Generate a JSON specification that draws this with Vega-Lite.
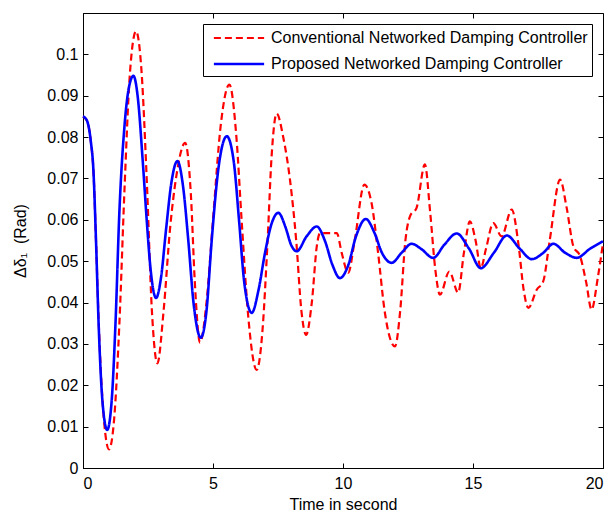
{
  "$schema": "https://vega.github.io/schema/vega-lite/v6.json",
  "width": 520,
  "height": 455,
  "autosize": {"type": "none"},
  "padding": {"left": 83, "top": 13, "right": 10, "bottom": 45},
  "background": "white",
  "config": {
    "font": "Liberation Sans",
    "view": {"stroke": "black", "strokeWidth": 1},
    "axis": {"grid": false, "domainColor": "black", "tickColor": "black", "labelColor": "black", "titleColor": "black", "labelFontSize": 16, "titleFontSize": 16, "titleFontWeight": "normal", "tickSize": -5}
  },
  "data": {"values": [
    {"t":0,"y":0.085,"s":"Conventional Networked Damping Controller"},
    {"t":0.15,"y":0.084,"s":"Conventional Networked Damping Controller"},
    {"t":0.3,"y":0.079,"s":"Conventional Networked Damping Controller"},
    {"t":0.4,"y":0.072,"s":"Conventional Networked Damping Controller"},
    {"t":0.5,"y":0.055,"s":"Conventional Networked Damping Controller"},
    {"t":0.6,"y":0.036,"s":"Conventional Networked Damping Controller"},
    {"t":0.8,"y":0.012,"s":"Conventional Networked Damping Controller"},
    {"t":1.0,"y":0.0045,"s":"Conventional Networked Damping Controller"},
    {"t":1.2,"y":0.012,"s":"Conventional Networked Damping Controller"},
    {"t":1.4,"y":0.035,"s":"Conventional Networked Damping Controller"},
    {"t":1.6,"y":0.068,"s":"Conventional Networked Damping Controller"},
    {"t":1.8,"y":0.095,"s":"Conventional Networked Damping Controller"},
    {"t":2.04,"y":0.1056,"s":"Conventional Networked Damping Controller"},
    {"t":2.25,"y":0.096,"s":"Conventional Networked Damping Controller"},
    {"t":2.45,"y":0.07,"s":"Conventional Networked Damping Controller"},
    {"t":2.65,"y":0.038,"s":"Conventional Networked Damping Controller"},
    {"t":2.86,"y":0.0253,"s":"Conventional Networked Damping Controller"},
    {"t":3.1,"y":0.038,"s":"Conventional Networked Damping Controller"},
    {"t":3.35,"y":0.058,"s":"Conventional Networked Damping Controller"},
    {"t":3.6,"y":0.071,"s":"Conventional Networked Damping Controller"},
    {"t":3.93,"y":0.0786,"s":"Conventional Networked Damping Controller"},
    {"t":4.15,"y":0.066,"s":"Conventional Networked Damping Controller"},
    {"t":4.3,"y":0.045,"s":"Conventional Networked Damping Controller"},
    {"t":4.5,"y":0.0303,"s":"Conventional Networked Damping Controller"},
    {"t":4.75,"y":0.04,"s":"Conventional Networked Damping Controller"},
    {"t":5.0,"y":0.06,"s":"Conventional Networked Damping Controller"},
    {"t":5.3,"y":0.083,"s":"Conventional Networked Damping Controller"},
    {"t":5.63,"y":0.0927,"s":"Conventional Networked Damping Controller"},
    {"t":5.9,"y":0.08,"s":"Conventional Networked Damping Controller"},
    {"t":6.1,"y":0.06,"s":"Conventional Networked Damping Controller"},
    {"t":6.35,"y":0.037,"s":"Conventional Networked Damping Controller"},
    {"t":6.68,"y":0.0237,"s":"Conventional Networked Damping Controller"},
    {"t":6.9,"y":0.033,"s":"Conventional Networked Damping Controller"},
    {"t":7.1,"y":0.055,"s":"Conventional Networked Damping Controller"},
    {"t":7.25,"y":0.075,"s":"Conventional Networked Damping Controller"},
    {"t":7.45,"y":0.0857,"s":"Conventional Networked Damping Controller"},
    {"t":7.7,"y":0.08,"s":"Conventional Networked Damping Controller"},
    {"t":7.96,"y":0.0697,"s":"Conventional Networked Damping Controller"},
    {"t":8.2,"y":0.055,"s":"Conventional Networked Damping Controller"},
    {"t":8.4,"y":0.038,"s":"Conventional Networked Damping Controller"},
    {"t":8.58,"y":0.0322,"s":"Conventional Networked Damping Controller"},
    {"t":8.8,"y":0.04,"s":"Conventional Networked Damping Controller"},
    {"t":9.0,"y":0.054,"s":"Conventional Networked Damping Controller"},
    {"t":9.12,"y":0.0568,"s":"Conventional Networked Damping Controller"},
    {"t":9.5,"y":0.0568,"s":"Conventional Networked Damping Controller"},
    {"t":9.76,"y":0.0568,"s":"Conventional Networked Damping Controller"},
    {"t":9.95,"y":0.052,"s":"Conventional Networked Damping Controller"},
    {"t":10.2,"y":0.0472,"s":"Conventional Networked Damping Controller"},
    {"t":10.45,"y":0.055,"s":"Conventional Networked Damping Controller"},
    {"t":10.82,"y":0.0685,"s":"Conventional Networked Damping Controller"},
    {"t":11.1,"y":0.064,"s":"Conventional Networked Damping Controller"},
    {"t":11.35,"y":0.052,"s":"Conventional Networked Damping Controller"},
    {"t":11.6,"y":0.038,"s":"Conventional Networked Damping Controller"},
    {"t":12.0,"y":0.0294,"s":"Conventional Networked Damping Controller"},
    {"t":12.2,"y":0.038,"s":"Conventional Networked Damping Controller"},
    {"t":12.4,"y":0.055,"s":"Conventional Networked Damping Controller"},
    {"t":12.58,"y":0.0609,"s":"Conventional Networked Damping Controller"},
    {"t":12.83,"y":0.0629,"s":"Conventional Networked Damping Controller"},
    {"t":13.15,"y":0.0734,"s":"Conventional Networked Damping Controller"},
    {"t":13.35,"y":0.062,"s":"Conventional Networked Damping Controller"},
    {"t":13.55,"y":0.048,"s":"Conventional Networked Damping Controller"},
    {"t":13.73,"y":0.0419,"s":"Conventional Networked Damping Controller"},
    {"t":14.09,"y":0.0475,"s":"Conventional Networked Damping Controller"},
    {"t":14.43,"y":0.0424,"s":"Conventional Networked Damping Controller"},
    {"t":14.65,"y":0.052,"s":"Conventional Networked Damping Controller"},
    {"t":14.88,"y":0.0596,"s":"Conventional Networked Damping Controller"},
    {"t":15.1,"y":0.055,"s":"Conventional Networked Damping Controller"},
    {"t":15.3,"y":0.0483,"s":"Conventional Networked Damping Controller"},
    {"t":15.5,"y":0.053,"s":"Conventional Networked Damping Controller"},
    {"t":15.78,"y":0.0592,"s":"Conventional Networked Damping Controller"},
    {"t":16.1,"y":0.056,"s":"Conventional Networked Damping Controller"},
    {"t":16.49,"y":0.0625,"s":"Conventional Networked Damping Controller"},
    {"t":16.75,"y":0.054,"s":"Conventional Networked Damping Controller"},
    {"t":16.95,"y":0.043,"s":"Conventional Networked Damping Controller"},
    {"t":17.13,"y":0.0387,"s":"Conventional Networked Damping Controller"},
    {"t":17.45,"y":0.0431,"s":"Conventional Networked Damping Controller"},
    {"t":17.7,"y":0.0451,"s":"Conventional Networked Damping Controller"},
    {"t":17.95,"y":0.055,"s":"Conventional Networked Damping Controller"},
    {"t":18.35,"y":0.0697,"s":"Conventional Networked Damping Controller"},
    {"t":18.6,"y":0.063,"s":"Conventional Networked Damping Controller"},
    {"t":18.86,"y":0.0536,"s":"Conventional Networked Damping Controller"},
    {"t":19.12,"y":0.0512,"s":"Conventional Networked Damping Controller"},
    {"t":19.35,"y":0.045,"s":"Conventional Networked Damping Controller"},
    {"t":19.56,"y":0.0383,"s":"Conventional Networked Damping Controller"},
    {"t":19.8,"y":0.046,"s":"Conventional Networked Damping Controller"},
    {"t":20,"y":0.0544,"s":"Conventional Networked Damping Controller"},
    {"t":0,"y":0.085,"s":"Proposed Networked Damping Controller"},
    {"t":0.15,"y":0.084,"s":"Proposed Networked Damping Controller"},
    {"t":0.3,"y":0.079,"s":"Proposed Networked Damping Controller"},
    {"t":0.4,"y":0.072,"s":"Proposed Networked Damping Controller"},
    {"t":0.5,"y":0.055,"s":"Proposed Networked Damping Controller"},
    {"t":0.6,"y":0.035,"s":"Proposed Networked Damping Controller"},
    {"t":0.75,"y":0.016,"s":"Proposed Networked Damping Controller"},
    {"t":0.93,"y":0.0092,"s":"Proposed Networked Damping Controller"},
    {"t":1.1,"y":0.016,"s":"Proposed Networked Damping Controller"},
    {"t":1.25,"y":0.035,"s":"Proposed Networked Damping Controller"},
    {"t":1.4,"y":0.062,"s":"Proposed Networked Damping Controller"},
    {"t":1.6,"y":0.083,"s":"Proposed Networked Damping Controller"},
    {"t":1.8,"y":0.093,"s":"Proposed Networked Damping Controller"},
    {"t":1.94,"y":0.0948,"s":"Proposed Networked Damping Controller"},
    {"t":2.1,"y":0.09,"s":"Proposed Networked Damping Controller"},
    {"t":2.3,"y":0.074,"s":"Proposed Networked Damping Controller"},
    {"t":2.45,"y":0.06,"s":"Proposed Networked Damping Controller"},
    {"t":2.6,"y":0.048,"s":"Proposed Networked Damping Controller"},
    {"t":2.81,"y":0.0411,"s":"Proposed Networked Damping Controller"},
    {"t":3.0,"y":0.046,"s":"Proposed Networked Damping Controller"},
    {"t":3.2,"y":0.058,"s":"Proposed Networked Damping Controller"},
    {"t":3.4,"y":0.069,"s":"Proposed Networked Damping Controller"},
    {"t":3.63,"y":0.0742,"s":"Proposed Networked Damping Controller"},
    {"t":3.85,"y":0.068,"s":"Proposed Networked Damping Controller"},
    {"t":4.05,"y":0.055,"s":"Proposed Networked Damping Controller"},
    {"t":4.25,"y":0.04,"s":"Proposed Networked Damping Controller"},
    {"t":4.53,"y":0.0315,"s":"Proposed Networked Damping Controller"},
    {"t":4.75,"y":0.038,"s":"Proposed Networked Damping Controller"},
    {"t":4.95,"y":0.055,"s":"Proposed Networked Damping Controller"},
    {"t":5.2,"y":0.072,"s":"Proposed Networked Damping Controller"},
    {"t":5.53,"y":0.0802,"s":"Proposed Networked Damping Controller"},
    {"t":5.8,"y":0.074,"s":"Proposed Networked Damping Controller"},
    {"t":6.0,"y":0.06,"s":"Proposed Networked Damping Controller"},
    {"t":6.2,"y":0.045,"s":"Proposed Networked Damping Controller"},
    {"t":6.49,"y":0.0375,"s":"Proposed Networked Damping Controller"},
    {"t":6.75,"y":0.043,"s":"Proposed Networked Damping Controller"},
    {"t":7.0,"y":0.052,"s":"Proposed Networked Damping Controller"},
    {"t":7.25,"y":0.059,"s":"Proposed Networked Damping Controller"},
    {"t":7.51,"y":0.0617,"s":"Proposed Networked Damping Controller"},
    {"t":7.8,"y":0.058,"s":"Proposed Networked Damping Controller"},
    {"t":8.0,"y":0.054,"s":"Proposed Networked Damping Controller"},
    {"t":8.22,"y":0.0524,"s":"Proposed Networked Damping Controller"},
    {"t":8.6,"y":0.056,"s":"Proposed Networked Damping Controller"},
    {"t":8.99,"y":0.0584,"s":"Proposed Networked Damping Controller"},
    {"t":9.3,"y":0.055,"s":"Proposed Networked Damping Controller"},
    {"t":9.6,"y":0.049,"s":"Proposed Networked Damping Controller"},
    {"t":9.88,"y":0.0459,"s":"Proposed Networked Damping Controller"},
    {"t":10.2,"y":0.049,"s":"Proposed Networked Damping Controller"},
    {"t":10.5,"y":0.056,"s":"Proposed Networked Damping Controller"},
    {"t":10.88,"y":0.0602,"s":"Proposed Networked Damping Controller"},
    {"t":11.2,"y":0.057,"s":"Proposed Networked Damping Controller"},
    {"t":11.5,"y":0.052,"s":"Proposed Networked Damping Controller"},
    {"t":11.87,"y":0.0496,"s":"Proposed Networked Damping Controller"},
    {"t":12.25,"y":0.052,"s":"Proposed Networked Damping Controller"},
    {"t":12.64,"y":0.0542,"s":"Proposed Networked Damping Controller"},
    {"t":13.0,"y":0.053,"s":"Proposed Networked Damping Controller"},
    {"t":13.47,"y":0.0508,"s":"Proposed Networked Damping Controller"},
    {"t":13.9,"y":0.054,"s":"Proposed Networked Damping Controller"},
    {"t":14.37,"y":0.0567,"s":"Proposed Networked Damping Controller"},
    {"t":14.85,"y":0.053,"s":"Proposed Networked Damping Controller"},
    {"t":15.3,"y":0.0483,"s":"Proposed Networked Damping Controller"},
    {"t":15.8,"y":0.052,"s":"Proposed Networked Damping Controller"},
    {"t":16.3,"y":0.0562,"s":"Proposed Networked Damping Controller"},
    {"t":16.8,"y":0.053,"s":"Proposed Networked Damping Controller"},
    {"t":17.26,"y":0.0505,"s":"Proposed Networked Damping Controller"},
    {"t":17.7,"y":0.052,"s":"Proposed Networked Damping Controller"},
    {"t":18.09,"y":0.0542,"s":"Proposed Networked Damping Controller"},
    {"t":18.55,"y":0.052,"s":"Proposed Networked Damping Controller"},
    {"t":18.99,"y":0.0508,"s":"Proposed Networked Damping Controller"},
    {"t":19.5,"y":0.053,"s":"Proposed Networked Damping Controller"},
    {"t":20,"y":0.0548,"s":"Proposed Networked Damping Controller"}
  ]},
  "layer": [
    {
      "mark": {"type": "line", "interpolate": "monotone"},
      "encoding": {
        "x": {"field": "t", "type": "quantitative", "scale": {"domain": [0, 20], "nice": false}, "axis": {"values": [0, 5, 10, 15, 20], "title": "Time in second", "titlePadding": 5, "labelPadding": 12}},
        "y": {"field": "y", "type": "quantitative", "scale": {"domain": [0, 0.11], "nice": false}, "axis": {"values": [0, 0.01, 0.02, 0.03, 0.04, 0.05, 0.06, 0.07, 0.08, 0.09, 0.1], "format": "~g", "title": "Δδ₁\u00a0\u00a0(Rad)", "titlePadding": 18, "labelPadding": 10}},
        "color": {"field": "s", "type": "nominal", "scale": {"domain": ["Conventional Networked Damping Controller", "Proposed Networked Damping Controller"], "range": ["#ff0000", "#0000ff"]}, "legend": {"title": null, "orient": "none", "legendX": 120, "legendY": 11, "fillColor": "white", "strokeColor": "black", "padding": 4, "labelFontSize": 16, "labelColor": "black", "symbolType": "M-2.9,0H2.9", "symbolSize": 300, "symbolStrokeWidth": 2.4, "symbolOffset": 22, "labelOffset": 22, "labelLimit": 400, "rowPadding": 8}},
        "strokeDash": {"field": "s", "type": "nominal", "scale": {"domain": ["Conventional Networked Damping Controller", "Proposed Networked Damping Controller"], "range": [[7, 4], [1, 0]]}, "legend": null},
        "strokeWidth": {"field": "s", "type": "nominal", "scale": {"domain": ["Conventional Networked Damping Controller", "Proposed Networked Damping Controller"], "range": [2.2, 2.6]}, "legend": null}
      }
    },
    {
      "mark": {"type": "point", "opacity": 0},
      "encoding": {
        "x": {"field": "t", "type": "quantitative", "axis": {"orient": "top", "values": [0, 5, 10, 15, 20], "labels": false, "title": null, "domain": false}},
        "y": {"field": "y", "type": "quantitative", "axis": {"orient": "right", "values": [0, 0.01, 0.02, 0.03, 0.04, 0.05, 0.06, 0.07, 0.08, 0.09, 0.1], "labels": false, "title": null, "domain": false}}
      }
    }
  ],
  "resolve": {"axis": {"x": "independent", "y": "independent"}}
}
